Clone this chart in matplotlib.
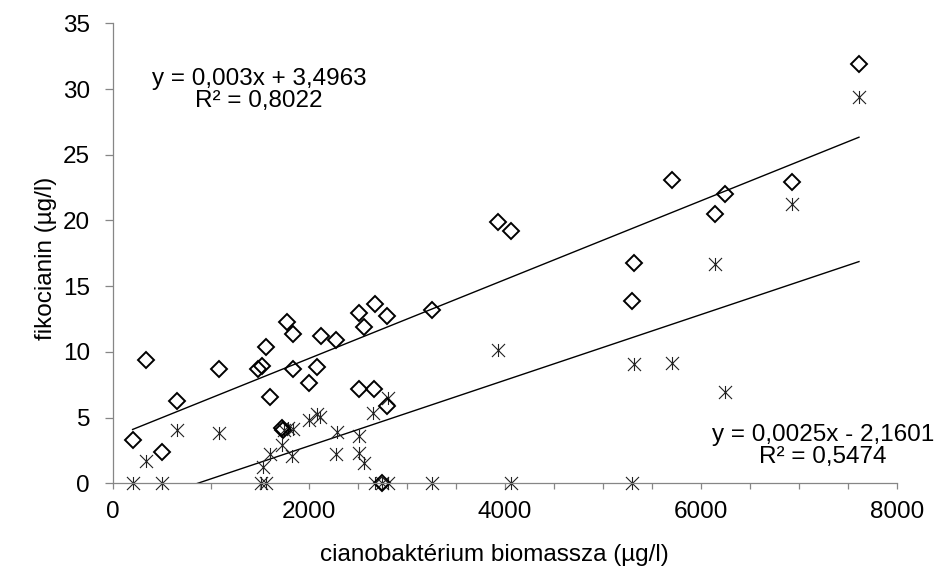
import matplotlib.pyplot as plt
from matplotlib.path import Path

plt.rcParams['font.family'] = ['Liberation Sans', 'DejaVu Sans']

# osszes fikocianin (rombusz)
x_total = [200, 337, 503, 656, 1085, 1483, 1517, 1558, 1602, 1721, 1738, 1772, 1834, 1834,
           2000, 2078, 2122, 2276, 2514, 2514, 2564, 2663, 2673, 2740, 2793, 2800, 3252,
           3925, 4061, 5293, 5316, 5707, 6143, 6240, 6932, 7612]
y_total = [3.3, 9.38, 2.36, 6.26, 8.67, 8.67, 8.93, 10.4, 6.55, 4.23, 4.06, 12.25, 11.34, 8.68,
           7.66, 8.83, 11.21, 10.9, 12.94, 7.15, 11.92, 7.15, 13.65, 0, 12.73, 5.9, 13.2,
           19.86, 19.2, 13.9, 16.74, 23.1, 20.5, 22.0, 22.95, 31.9]

# masik sorozat (csillag)
x_star = [200, 337, 503, 656, 1085, 1507, 1527, 1560, 1602, 1728, 1745, 1789, 1840, 1830,
          2000, 2078, 2112, 2289, 2276, 2514, 2514, 2560, 2656, 2673, 2740, 2803, 2810, 3252,
          3925, 4061, 5293, 5316, 5707, 6143, 6240, 6932, 7612]
y_star = [0, 1.72, 0, 4.06, 3.85, 0, 1.27, 0, 2.23, 2.91, 4.05, 4.18, 4.1, 2.08,
          4.82, 5.27, 5.07, 3.93, 2.25, 3.6, 2.33, 1.52, 5.35, 0, 0, 6.47, 0, 0,
          10.14, 0, 0, 9.08, 9.18, 16.7, 6.97, 21.25, 29.4]

# trendvonalak (a kepen levo egyenletek)
fit1 = (0.003, 3.4963)
fit2 = (0.0025, -2.1601)
eq1 = 'y = 0,003x + 3,4963\nR² = 0,8022'
eq2 = 'y = 0,0025x - 2,1601\nR² = 0,5474'

star = Path([(0, -1), (0, 1), (-1, -1), (1, 1), (-1, 1), (1, -1)],
            [Path.MOVETO, Path.LINETO, Path.MOVETO, Path.LINETO, Path.MOVETO, Path.LINETO])

fs = 17.5

fig = plt.figure(figsize=(9.47, 5.78), dpi=100)
ax = fig.add_axes([113/947, 1 - 483.3/578, 784/947, 460/578])

xmin, xmax = min(x_total), max(x_total)
ax.plot([xmin, xmax], [fit1[0]*xmin + fit1[1], fit1[0]*xmax + fit1[1]], color='black', lw=1.0)
xmin2, xmax2 = min(x_star), max(x_star)
ax.plot([xmin2, xmax2], [fit2[0]*xmin2 + fit2[1], fit2[0]*xmax2 + fit2[1]], color='black', lw=1.0)

ax.plot(x_star, y_star, linestyle='none', marker=star, markersize=9.4,
        markerfacecolor='none', markeredgecolor='#222222', markeredgewidth=0.8, clip_on=False)
ax.plot(x_total, y_total, linestyle='none', marker='D', markersize=7.8,
        markerfacecolor='none', markeredgecolor='black', markeredgewidth=1.4, clip_on=False)

ax.set_xlim(0, 8000)
ax.set_ylim(0, 35)
ax.set_xticks(range(0, 8001, 2000))
ax.set_xticks(range(0, 8001, 500), minor=True)
ax.set_yticks(range(0, 36, 5))

for s in ['top', 'right']:
    ax.spines[s].set_visible(False)
for s in ['left', 'bottom']:
    ax.spines[s].set_color('#868686')
    ax.spines[s].set_linewidth(0.9)

ax.tick_params(axis='y', direction='out', length=5.5, width=0.9, color='#868686',
               labelsize=fs, pad=11)
ax.tick_params(axis='x', which='both', direction='out', length=4, width=0.9, color='#868686',
               labelsize=fs, pad=9)

ax.set_ylabel('fikocianin (µg/l)', fontsize=fs)
ax.yaxis.set_label_coords(-0.071, 0.49)
ax.set_xlabel('cianobaktérium biomassza (µg/l)', fontsize=fs)
ax.xaxis.set_label_coords(0.487, -0.133)

fig.text(259/947, 1 - 90/578, eq1, ha='center', va='center', fontsize=fs, linespacing=1.05)
fig.text(823/947, 1 - 446/578, eq2, ha='center', va='center', fontsize=fs, linespacing=1.05)

fig.savefig('out.png', dpi=100)
